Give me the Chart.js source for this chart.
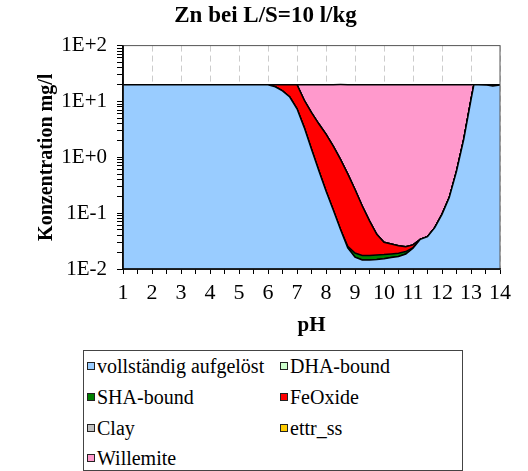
<!DOCTYPE html>
<html lang="de">
<head>
    <meta charset="UTF-8">
    <title>Zn bei L/S=10 l/kg</title>
    <script src="https://cdn.jsdelivr.net/npm/chart.js"></script>
    <style>
        body { margin: 0; background: #fff; font-family: "Liberation Serif", "Times New Roman", serif; }
        #wrap { position: relative; width: 528px; height: 471px; }
        #legend { position: absolute; left: 83px; top: 350px; width: 380px; height: 121px;
                  border: 1.5px solid #444; box-sizing: border-box; }
        .item { position: absolute; font-size: 20px; line-height: 24px; height: 24px;
                display: flex; align-items: center; white-space: nowrap; color: #000; }
        .box { width: 6px; height: 6px; border: 1.5px solid #222; margin-right: 2px; }
    </style>
</head>
<body>
<div id="wrap">
    <canvas id="chart" width="528" height="345"></canvas>
    <div id="legend"></div>
</div>

<script>
    // pH values where the model was evaluated
    const ph = [1, 2, 3, 4, 5, 5.5, 6, 6.25, 6.5, 6.75, 7, 7.25, 7.5, 7.75, 8, 8.25, 8.5, 8.75, 9, 9.25,
                9.5, 9.75, 10, 10.25, 10.5, 10.75, 11, 11.25, 11.5, 11.75, 12, 12.25, 12.5, 12.75, 13, 13.1,
                13.25, 13.5, 13.75, 14];

    // Zn in mg/l per fraction
    const vollstaendig = [20, 20, 20, 20, 20, 20, 19.9, 18.3, 15.5, 12, 7.4, 3.4, 1.4, 0.58, 0.25, 0.114, 0.051, 0.024, 0.0163, 0.0145,
                          0.0145, 0.0148, 0.0153, 0.016, 0.0168, 0.0185, 0.0235, 0.034, 0.038, 0.055, 0.095, 0.19, 0.56, 2.1, 10.7, 20,
                          20, 19.8, 19.0, 19.8];
    const dhaBound = [0, 0, 0, 0, 0, 0, 0, 0, 0, 0, 0, 0, 0, 0, 0, 0, 0, 0, 0, 0,
                      0, 0, 0, 0, 0, 0, 0, 0, 0, 0, 0, 0, 0, 0, 0, 0, 0, 0, 0, 0];
    const shaBound = [0, 0, 0, 0, 0, 0, 0, 0, 0, 0, 0, 0, 0, 0, 0, 0, 0, 0.0015, 0.003, 0.003,
                      0.003, 0.003, 0.0028, 0.0026, 0.0024, 0.002, 0.0005, 0, 0, 0, 0, 0, 0, 0, 0, 0,
                      0, 0, 0, 0];
    const feOxide = [0, 0, 0, 0, 0, 0, 0.1, 1.7, 4.5, 8, 12.6, 7.1, 4.9, 3.4, 2.35, 1.47, 0.87, 0.48, 0.246, 0.117,
                     0.055, 0.024, 0.012, 0.0094, 0.0068, 0.0045, 0.003, 0, 0, 0, 0, 0, 0, 0, 0, 0,
                     0, 0, 0, 0];
    const clay = [0, 0, 0, 0, 0, 0, 0, 0, 0, 0, 0, 0, 0, 0, 0, 0, 0, 0, 0, 0,
                  0, 0, 0, 0, 0, 0, 0, 0, 0, 0, 0, 0, 0, 0, 0, 0, 0, 0, 0, 0];
    const ettrSs = [0, 0, 0, 0, 0, 0, 0, 0, 0, 0, 0, 0, 0, 0, 0, 0, 0, 0, 0, 0,
                    0, 0, 0, 0, 0, 0, 0, 0, 0, 0, 0, 0, 0, 0, 0, 0, 0, 0.2, 1.0, 0.2];
    const willemite = [0, 0, 0, 0, 0, 0, 0, 0, 0, 0, 0, 9.5, 13.7, 16.0, 17.4, 18.4, 19.1, 19.5, 19.73, 19.87,
                       19.93, 19.96, 19.97, 19.97, 19.97, 19.97, 19.97, 19.97, 19.96, 19.95, 19.9, 19.8, 19.44, 17.9, 9.3, 0,
                       0, 0, 0, 0];

    const seriesNames = ['vollständig aufgelöst', 'DHA-bound', 'SHA-bound', 'FeOxide', 'Clay', 'ettr_ss', 'Willemite'];
    const yTickLabels = ['1E-2', '1E-1', '1E+0', '1E+1', '1E+2'];

    const seriesColors = ['#99CCFF', '#CCFFCC', '#008000', '#FF0000', '#C0C0C0', '#FFCC00', '#FF99CC'];
    const fontFamily = "'Liberation Serif', 'Times New Roman', serif";

    // stacked areas: every series sits on top of the ones before it
    const series = [vollstaendig, dhaBound, shaBound, feOxide, clay, ettrSs, willemite];
    let running = ph.map(() => 0);
    const datasets = series.map((vals, k) => {
        running = running.map((r, i) => r + vals[i]);
        return {
            label: seriesNames[k],
            data: ph.map((x, i) => ({ x: x, y: running[i] })),
            backgroundColor: seriesColors[k],
            borderColor: '#000',
            borderWidth: 1.5,
            pointRadius: 0,
            tension: 0,
            fill: k === 0 ? 'start' : '-1'
        };
    });

    // log axis ticks: 1..9 in every decade, plus the top end
    const yTickValues = [];
    for (let e = -2; e < 2; e++) {
        for (let m = 1; m < 10; m++) yTickValues.push(m * Math.pow(10, e));
    }
    yTickValues.push(100);

    const framePlugin = {
        id: 'frame',
        afterDatasetsDraw(chart) {
            const { ctx, chartArea: a } = chart;
            ctx.save();
            ctx.strokeStyle = '#555';
            ctx.lineWidth = 1;
            ctx.strokeRect(a.left, a.top, a.right - a.left, a.bottom - a.top);
            ctx.strokeStyle = '#000';
            ctx.lineWidth = 1.5;
            ctx.beginPath();
            ctx.moveTo(a.left, a.top);
            ctx.lineTo(a.left, a.bottom);
            ctx.lineTo(a.right, a.bottom);
            ctx.stroke();
            ctx.restore();
        }
    };

    Chart.defaults.font.family = fontFamily;
    Chart.defaults.color = '#000';

    const chart = new Chart(document.getElementById('chart'), {
        type: 'line',
        data: { datasets: datasets },
        options: {
            responsive: false,
            animation: false,
            layout: { padding: { left: 31, right: 28, top: 0, bottom: 0 } },
            plugins: {
                legend: { display: false },
                tooltip: { enabled: false },
                title: {
                    display: true,
                    text: 'Zn bei L/S=10 l/kg',
                    font: { size: 23, weight: 'bold' },
                    color: '#000',
                    padding: { top: 2, bottom: 16 }
                }
            },
            scales: {
                x: {
                    type: 'linear',
                    min: 1,
                    max: 14,
                    afterFit: s => { s.height = 76; },
                    ticks: {
                        stepSize: 0.5,
                        autoSkip: false,
                        maxRotation: 0,
                        padding: 6,
                        font: { size: 22 },
                        callback: v => Number.isInteger(v) ? String(v) : ''
                    },
                    grid: {
                        color: ctx => (ctx.tick && Number.isInteger(ctx.tick.value)) ? '#cccccc' : 'rgba(0,0,0,0)',
                        tickColor: '#000',
                        tickLength: 5,
                        lineWidth: 1
                    },
                    border: { color: '#000', width: 1.5, dash: [6, 4] },
                    title: {
                        display: true,
                        text: 'pH',
                        font: { size: 21, weight: 'bold' },
                        padding: { top: 0, bottom: 7 }
                    }
                },
                y: {
                    type: 'logarithmic',
                    min: 0.01,
                    max: 100,
                    afterFit: s => { s.width = 92; },
                    afterBuildTicks: s => { s.ticks = yTickValues.map(v => ({ value: v })); },
                    ticks: {
                        autoSkip: false,
                        padding: 10,
                        font: { size: 21 },
                        callback: v => {
                            const e = Math.log10(v);
                            return Math.abs(e - Math.round(e)) < 1e-6 ? yTickLabels[Math.round(e) + 2] : '';
                        }
                    },
                    grid: {
                        drawOnChartArea: false,
                        tickColor: '#000',
                        tickLength: 6
                    },
                    border: { color: '#000', width: 1.5 },
                    title: {
                        display: true,
                        text: 'Konzentration mg/l',
                        font: { size: 20, weight: 'bold' },
                        padding: { top: 4, bottom: 0 }
                    }
                }
            }
        },
        plugins: [framePlugin]
    });

    // legend box in two columns, built from the chart's datasets
    const legendEl = document.getElementById('legend');
    const colX = [3, 196];
    const rowY = [3, 34, 65, 95];
    chart.data.datasets.forEach((ds, i) => {
        const item = document.createElement('div');
        item.className = 'item';
        item.style.left = colX[i % 2] + 'px';
        item.style.top = rowY[Math.floor(i / 2)] + 'px';
        const box = document.createElement('span');
        box.className = 'box';
        box.style.background = ds.backgroundColor;
        item.appendChild(box);
        item.appendChild(document.createTextNode(ds.label));
        legendEl.appendChild(item);
    });
</script>
</body>
</html>
